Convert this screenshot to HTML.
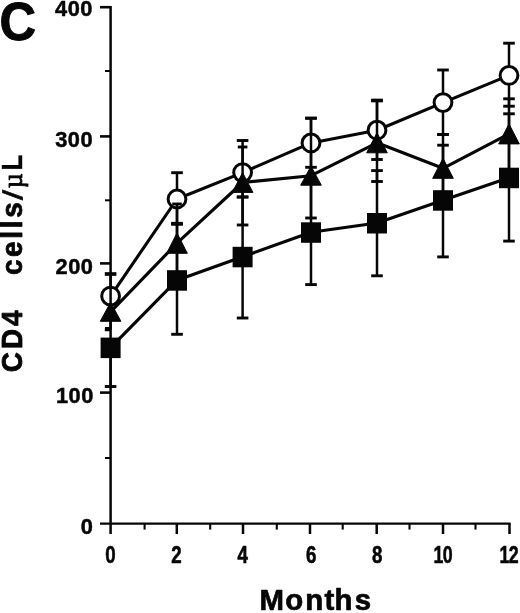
<!DOCTYPE html>
<html><head><meta charset="utf-8"><title>C</title>
<style>html,body{margin:0;padding:0;background:#fff}svg{display:block}text{font-family:"Liberation Sans",sans-serif;font-weight:bold;fill:#060606}</style></head><body>
<svg width="520" height="613" viewBox="0 0 520 613">
<rect width="520" height="613" fill="#fff"/>
<g stroke="#060606" stroke-width="2.6" fill="none" stroke-linecap="butt">
<path d="M110.6 6 V523.6" stroke-width="2.5"/>
<path d="M100 523.6 H510.6" stroke-width="2.3"/>
<path d="M100 7.2 H110.6"/>
<path d="M100 136.4 H110.6"/>
<path d="M100 263.4 H110.6"/>
<path d="M100 392.6 H110.6"/>
<path d="M105 71.0 H110.6" stroke-width="2"/>
<path d="M105 200.3 H110.6" stroke-width="2"/>
<path d="M105 328.0 H110.6" stroke-width="2"/>
<path d="M105 458.0 H110.6" stroke-width="2"/>
<path d="M110.6 523.6 V534" stroke-width="2.5"/>
<path d="M176.8 523.6 V534" stroke-width="2.5"/>
<path d="M243.0 523.6 V534" stroke-width="2.5"/>
<path d="M310.0 523.6 V534" stroke-width="2.5"/>
<path d="M376.7 523.6 V534" stroke-width="2.5"/>
<path d="M443.0 523.6 V534" stroke-width="2.5"/>
<path d="M509.5 523.6 V534" stroke-width="2.5"/>
<path d="M144.6 523.6 V529.6" stroke-width="2.1"/>
<path d="M210.2 523.6 V529.6" stroke-width="2.1"/>
<path d="M276.8 523.6 V529.6" stroke-width="2.1"/>
<path d="M342.7 523.6 V529.6" stroke-width="2.1"/>
<path d="M409.5 523.6 V529.6" stroke-width="2.1"/>
<path d="M475.5 523.6 V529.6" stroke-width="2.1"/>
</g>
<g stroke="#060606" fill="none">
<path d="M110.6 274.0 V317.0" stroke-width="2.5"/>
<path d="M104.8 274.0 H116.4" stroke-width="3.7"/>
<path d="M104.8 317.0 H116.4" stroke-width="2.9"/>
<path d="M177.0 172.7 V223.7" stroke-width="2.5"/>
<path d="M171.2 172.7 H182.8" stroke-width="2.9"/>
<path d="M171.2 223.7 H182.8" stroke-width="3.7"/>
<path d="M242.6 140.5 V197.0" stroke-width="2.5"/>
<path d="M236.8 140.5 H248.4" stroke-width="2.9"/>
<path d="M236.8 197.0 H248.4" stroke-width="2.9"/>
<path d="M311.0 118.2 V167.3" stroke-width="2.5"/>
<path d="M305.2 118.2 H316.8" stroke-width="2.9"/>
<path d="M305.2 167.3 H316.8" stroke-width="2.9"/>
<path d="M377.0 100.5 V159.5" stroke-width="2.5"/>
<path d="M371.2 100.5 H382.8" stroke-width="3.7"/>
<path d="M371.2 159.5 H382.8" stroke-width="2.9"/>
<path d="M443.0 70.0 V134.5" stroke-width="2.5"/>
<path d="M437.2 70.0 H448.8" stroke-width="2.9"/>
<path d="M437.2 134.5 H448.8" stroke-width="2.9"/>
<path d="M509.0 43.2 V106.2" stroke-width="2.5"/>
<path d="M503.2 43.2 H514.8" stroke-width="2.9"/>
<path d="M503.2 106.2 H514.8" stroke-width="2.9"/>
<polyline points="110.6,296.1 177.0,199.0 242.6,172.6 311.0,142.9 377.0,130.2 443.0,102.6 509.0,75.4" stroke-width="3.1" fill="none" stroke-linejoin="round"/>
<circle cx="110.6" cy="296.1" r="8.9" fill="#fff" stroke-width="3"/>
<circle cx="177.0" cy="199.0" r="8.9" fill="#fff" stroke-width="3"/>
<circle cx="242.6" cy="172.6" r="8.9" fill="#fff" stroke-width="3"/>
<circle cx="311.0" cy="142.9" r="8.9" fill="#fff" stroke-width="3"/>
<circle cx="377.0" cy="130.2" r="8.9" fill="#fff" stroke-width="3"/>
<circle cx="443.0" cy="102.6" r="8.9" fill="#fff" stroke-width="3"/>
<circle cx="509.0" cy="75.4" r="8.9" fill="#fff" stroke-width="3"/>
<path d="M110.6 287.0 V329.8" stroke-width="2.5"/>
<path d="M104.8 329.8 H110.6" stroke-width="2.9"/>
<path d="M177.0 204.0 V281.0" stroke-width="2.5"/>
<path d="M172.2 204.0 H181.8" stroke-width="2.9"/>
<path d="M171.2 281.0 H182.8" stroke-width="2.9"/>
<path d="M242.6 147.0 V225.0" stroke-width="2.5"/>
<path d="M237.8 147.0 H247.4" stroke-width="2.9"/>
<path d="M236.8 225.0 H248.4" stroke-width="2.9"/>
<path d="M311.0 118.2 V218.0" stroke-width="2.5"/>
<path d="M305.2 118.2 H316.8" stroke-width="2.9"/>
<path d="M305.2 218.0 H316.8" stroke-width="2.9"/>
<path d="M377.0 100.5 V181.5" stroke-width="2.5"/>
<path d="M371.2 100.5 H382.8" stroke-width="2.9"/>
<path d="M371.2 181.5 H382.8" stroke-width="2.9"/>
<path d="M443.0 134.5 V196.0" stroke-width="2.5"/>
<path d="M437.2 134.5 H448.8" stroke-width="2.9"/>
<path d="M437.2 196.0 H448.8" stroke-width="2.9"/>
<path d="M509.0 98.8 V170.0" stroke-width="2.5"/>
<path d="M503.2 98.8 H514.8" stroke-width="2.9"/>
<path d="M503.2 170.0 H514.8" stroke-width="2.9"/>
<polyline points="110.6,311.8 177.0,243.2 242.6,182.5 311.0,175.7 377.0,142.8 443.0,168.3 509.0,133.9" stroke-width="3.1" fill="none" stroke-linejoin="round"/>
<path d="M110.6 302.3 L120.9 321.3 L100.3 321.3 Z" fill="#060606" stroke-width="1" stroke-linejoin="miter"/>
<path d="M177.0 233.0 L187.3 253.3 L166.7 253.3 Z" fill="#060606" stroke-width="1" stroke-linejoin="miter"/>
<path d="M242.6 172.6 L252.9 192.4 L232.3 192.4 Z" fill="#060606" stroke-width="1" stroke-linejoin="miter"/>
<path d="M311.0 166.2 L321.3 185.2 L300.7 185.2 Z" fill="#060606" stroke-width="1" stroke-linejoin="miter"/>
<path d="M377.0 132.8 L387.3 152.8 L366.7 152.8 Z" fill="#060606" stroke-width="1" stroke-linejoin="miter"/>
<path d="M443.0 158.3 L453.3 178.3 L432.7 178.3 Z" fill="#060606" stroke-width="1" stroke-linejoin="miter"/>
<path d="M509.0 123.9 L519.3 143.9 L498.7 143.9 Z" fill="#060606" stroke-width="1" stroke-linejoin="miter"/>
<path d="M110.6 340.0 V386.5" stroke-width="2.5"/>
<path d="M104.8 340.0 H116.4" stroke-width="2.9"/>
<path d="M104.8 386.5 H116.4" stroke-width="2.9"/>
<path d="M177.0 224.0 V334.3" stroke-width="2.5"/>
<path d="M171.2 224.0 H182.8" stroke-width="2.9"/>
<path d="M171.2 334.3 H182.8" stroke-width="2.9"/>
<path d="M242.6 197.0 V318.0" stroke-width="2.5"/>
<path d="M236.8 197.0 H248.4" stroke-width="2.9"/>
<path d="M236.8 318.0 H248.4" stroke-width="2.9"/>
<path d="M311.0 180.0 V284.6" stroke-width="2.5"/>
<path d="M305.2 180.0 H316.8" stroke-width="2.9"/>
<path d="M305.2 284.6 H316.8" stroke-width="2.9"/>
<path d="M377.0 170.6 V275.8" stroke-width="2.5"/>
<path d="M371.2 170.6 H382.8" stroke-width="2.9"/>
<path d="M371.2 275.8 H382.8" stroke-width="2.9"/>
<path d="M443.0 145.2 V256.9" stroke-width="2.5"/>
<path d="M437.2 145.2 H448.8" stroke-width="2.9"/>
<path d="M437.2 256.9 H448.8" stroke-width="2.9"/>
<path d="M509.0 113.8 V241.1" stroke-width="2.5"/>
<path d="M503.2 113.8 H514.8" stroke-width="2.9"/>
<path d="M503.2 241.1 H514.8" stroke-width="2.9"/>
<polyline points="110.6,347.6 177.0,280.2 242.6,256.8 311.0,232.3 377.0,223.0 443.0,200.2 509.0,177.7" stroke-width="3.1" fill="none" stroke-linejoin="round"/>
<rect x="100.6" y="337.6" width="20" height="20.5" fill="#060606" stroke="none"/>
<rect x="167.0" y="270.2" width="20" height="20.5" fill="#060606" stroke="none"/>
<rect x="232.6" y="246.8" width="20" height="20.5" fill="#060606" stroke="none"/>
<rect x="301.0" y="222.3" width="20" height="20.5" fill="#060606" stroke="none"/>
<rect x="367.0" y="213.0" width="20" height="20.5" fill="#060606" stroke="none"/>
<rect x="433.0" y="190.2" width="20" height="20.5" fill="#060606" stroke="none"/>
<rect x="499.0" y="167.7" width="20" height="20.5" fill="#060606" stroke="none"/>
</g>
<g stroke="#060606" stroke-linejoin="round">
<text transform="translate(-0.4 39.6) scale(0.93 1)" font-size="54.5" stroke-width="1">C</text>
<text transform="translate(55.1 16.4) scale(0.97 1)" font-size="22.5" letter-spacing="0.5" stroke-width="0.5">400</text>
<text transform="translate(55.2 146.6) scale(0.97 1)" font-size="22.5" letter-spacing="0.5" stroke-width="0.5">300</text>
<text transform="translate(55.6 273.9) scale(0.97 1)" font-size="22.5" letter-spacing="0.5" stroke-width="0.5">200</text>
<text transform="translate(56.0 402.9) scale(0.97 1)" font-size="22.5" letter-spacing="0.5" stroke-width="0.5">100</text>
<text transform="translate(80.7 533.9) scale(0.97 1)" font-size="22.5" letter-spacing="0.5" stroke-width="0.5">0</text>
<text transform="translate(110.4 563.3) scale(0.78 1)" font-size="24" text-anchor="middle" stroke-width="0.6">0</text>
<text transform="translate(176.4 563.3) scale(0.78 1)" font-size="24" text-anchor="middle" stroke-width="0.6">2</text>
<text transform="translate(242.6 563.3) scale(0.78 1)" font-size="24" text-anchor="middle" stroke-width="0.6">4</text>
<text transform="translate(311.1 563.3) scale(0.78 1)" font-size="24" text-anchor="middle" stroke-width="0.6">6</text>
<text transform="translate(377.3 563.3) scale(0.78 1)" font-size="24" text-anchor="middle" stroke-width="0.6">8</text>
<text transform="translate(442.8 563.3) scale(0.74 1)" font-size="24" text-anchor="middle" stroke-width="0.6" letter-spacing="-0.7">10</text>
<text transform="translate(508.8 563.3) scale(0.74 1)" font-size="24" text-anchor="middle" stroke-width="0.6" letter-spacing="-0.7">12</text>
<text x="259.5 285.15 305.2 324.5 334.6 354.7" y="610.3" font-size="29.4" stroke-width="0.7">Months</text>
<g><text transform="translate(22.1 372) rotate(-90) scale(0.93 1)" font-size="30" x="-0.4 24.7 49.6" stroke-width="0.8">CD4</text><text transform="translate(22.1 372) rotate(-90)" font-size="30" x="75" stroke="none"> </text><text transform="translate(22.1 372) rotate(-90) scale(0.93 1)" font-size="30" x="104.2 123.8 143.3 154.6 165.9" stroke-width="0.8">cells</text><text transform="translate(22.1 372) rotate(-90) scale(0.93 1) translate(184.6 0) skewX(-11.8)" font-size="27" x="0" stroke-width="0.7">/</text><text transform="translate(22.1 372) rotate(-90) scale(0.93 1)" font-size="28" x="197.5" stroke-width="0.9" style="font-family:'Liberation Serif','DejaVu Serif',serif;font-weight:normal">µ</text><text transform="translate(22.1 372) rotate(-90) scale(0.86 1)" font-size="30" x="234.4" stroke-width="0.4">L</text></g>
</g>
</svg></body></html>
